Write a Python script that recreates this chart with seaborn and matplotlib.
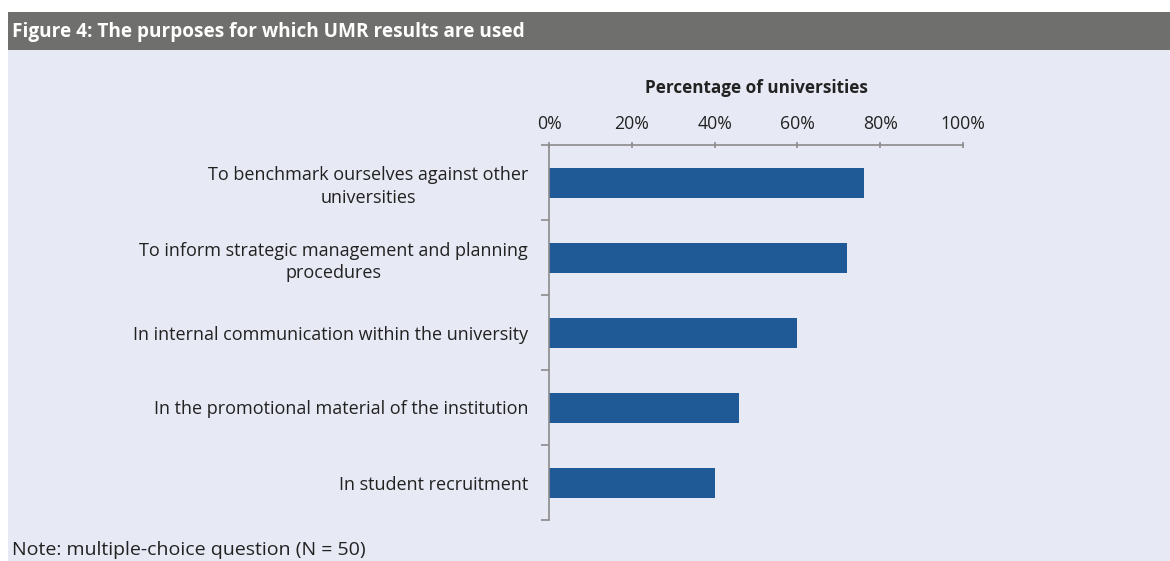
import pandas as pd
import seaborn as sns
import matplotlib.pyplot as plt
from matplotlib.patches import Rectangle
from matplotlib.ticker import PercentFormatter

# Survey answers
purposes = ['To benchmark ourselves against other\nuniversities',
            'To inform strategic management and planning\nprocedures',
            'In internal communication within the university',
            'In the promotional material of the institution',
            'In student recruitment']
share = [76, 72, 60, 46, 40]

df = pd.DataFrame({'Purpose': purposes, 'Share': share})

sns.set_style('white')
plt.rcParams['font.family'] = ['Open Sans', 'DejaVu Sans']

fig = plt.figure(figsize=(11.7, 5.61), dpi=100, facecolor='white')
# page background and header band
fig.patches.append(Rectangle((8 / 1170, 0), 1, 1 - 50 / 561, transform=fig.transFigure,
                             facecolor='#E7E9F4', edgecolor='none', zorder=-2))
fig.patches.append(Rectangle((8 / 1170, 1 - 50 / 561), 1, 38 / 561, transform=fig.transFigure,
                             facecolor='#6F6F6D', edgecolor='none', zorder=-2))
fig.text(12 / 1170, 1 - 32 / 561, 'Figure 4: The purposes for which UMR results are used',
         color='white', fontsize=13.7, fontweight='bold', va='center', ha='left')
fig.text(12 / 1170, 1 - 550 / 561, 'Note: multiple-choice question (N = 50)',
         color='#222222', fontsize=14, va='center', ha='left')

ax = fig.add_axes([549 / 1170, 41 / 561, 414 / 1170, 375 / 561])
ax.set_facecolor('none')
sns.barplot(data=df, x='Share', y='Purpose', orient='h', color='#1F5A96',
            width=0.4, saturation=1, edgecolor='none', linewidth=0, ax=ax)

ax.set_xlim(0, 100)
ax.set_ylim(4.5, -0.5)
ax.xaxis.tick_top()
ax.xaxis.set_label_position('top')
ax.set_xticks([0, 20, 40, 60, 80, 100])
ax.xaxis.set_major_formatter(PercentFormatter(decimals=0))
ax.set_xlabel('Percentage of universities', fontsize=12.3, fontweight='bold',
              color='#222222', labelpad=16)
ax.set_ylabel('')

# category labels, centred lines, ticks on category boundaries
ax.set_yticks(range(len(purposes)))
ax.set_yticklabels(purposes, ha='right', multialignment='center', linespacing=1.35)
ax.tick_params(axis='y', length=0, pad=15, labelsize=13, labelcolor='#222222')
ax.set_yticks([i - 0.5 for i in range(len(purposes) + 1)], minor=True)
ax.tick_params(axis='y', which='minor', length=6, width=1.2, color='#8C8C8C', left=True)
ax.tick_params(axis='x', length=5, width=1.2, color='#8C8C8C', direction='inout',
               labelsize=12.7, labelcolor='#222222', pad=6)

for side in ['right', 'bottom']:
    ax.spines[side].set_visible(False)
for side in ['left', 'top']:
    ax.spines[side].set_color('#8C8C8C')
    ax.spines[side].set_linewidth(1.2)

fig.savefig('out.png', dpi=100, facecolor=fig.get_facecolor())
